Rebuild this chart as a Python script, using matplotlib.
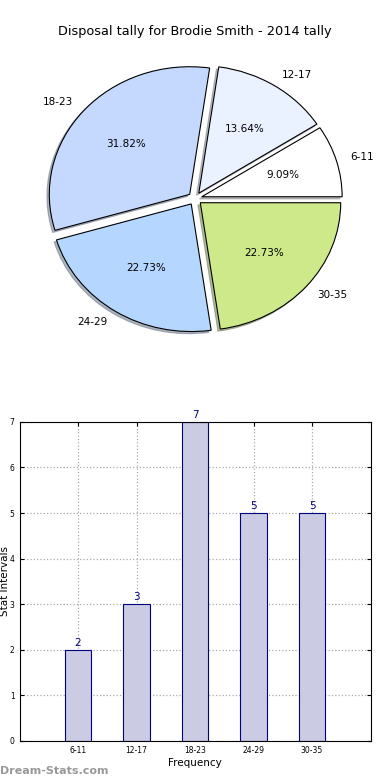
import matplotlib
matplotlib.use("Agg")
import matplotlib.pyplot as plt

categories = ["6-11", "12-17", "18-23", "24-29", "30-35"]
values = [2, 3, 7, 5, 5]
pie_colors = ["#ffffff", "#eaf2ff", "#c5d9ff", "#b5d6ff", "#cde98a"]
title = "Disposal tally for Brodie Smith - 2014 tally"

fig = plt.figure(figsize=(3.9, 7.8), dpi=100)
fig.subplots_adjust(left=0.05, right=0.95, top=0.95, bottom=0.05, hspace=0.2)

ax1 = fig.add_subplot(2, 1, 1)
wedges, texts, autotexts = ax1.pie(
    values, labels=categories, colors=pie_colors, explode=[0.05] * len(values),
    autopct="%.2f%%", shadow=dict(ox=-0.012, oy=-0.012, shade=0.5), startangle=0,
    wedgeprops=dict(edgecolor="black", linewidth=0.8),
    textprops=dict(fontsize=7.5))
ax1.set_aspect("auto")
ax1.set_xlim(-1.25, 1.25)
ax1.set_ylim(-1.25, 1.25)
ax1.set_title(title, fontsize=9.3, pad=3)

ax2 = fig.add_subplot(2, 1, 2)
x = list(range(len(categories)))
bars = ax2.bar(x, values, width=0.45, color="#cbcbe4", edgecolor="navy", linewidth=0.8, zorder=2)
for xi, v in zip(x, values):
    ax2.text(xi, v + 0.05, str(v), ha="center", va="bottom", color="navy", fontsize=7.5)
ax2.set_xlim(-1, 5)
ax2.set_ylim(0, 7)
ax2.set_xticks(x)
ax2.set_xticklabels(categories)
ax2.set_yticks(range(0, 8))
ax2.tick_params(axis="both", labelsize=5.5, direction="in", top=True, right=True, length=3)
ax2.grid(True, linestyle=":", color="#aaaaaa", linewidth=0.9, zorder=0)
ax2.set_axisbelow(True)
ax2.set_xlabel("Frequency", fontsize=7.5, labelpad=2)
ax2.set_ylabel("Stat Intervals", fontsize=7.5)
ax2.yaxis.set_label_coords(-0.027, 0.5)
for s in ax2.spines.values():
    s.set_linewidth(0.8)

fig.text(0.0, 0.005, "Dream-Stats.com", fontsize=8, color="#999999", fontweight="bold", ha="left", va="bottom")

fig.savefig("out.png", dpi=100)
